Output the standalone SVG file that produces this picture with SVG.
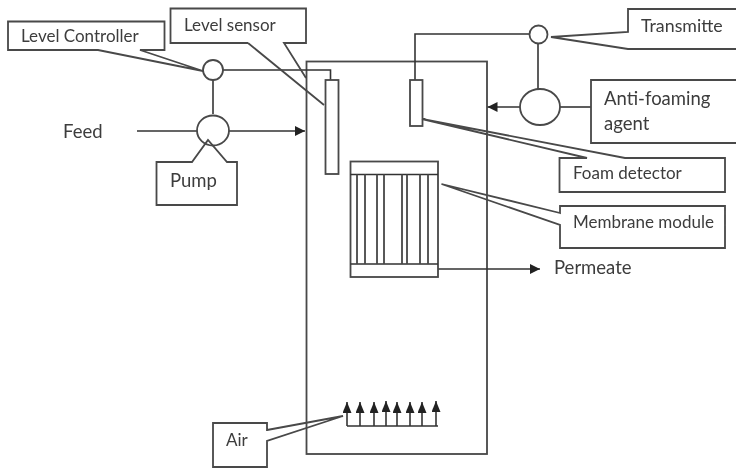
<svg xmlns="http://www.w3.org/2000/svg" width="736" height="469" viewBox="0 0 736 469">
<style>
.l{fill:none;stroke:#484848;stroke-width:1.8;stroke-linejoin:miter}
.d{fill:none;stroke:#333;stroke-width:1.6}
.w{fill:#fff;stroke:#484848;stroke-width:1.8}
.t{font-family:"Lato","Liberation Sans",sans-serif;font-size:17px;fill:#3c3c3c}
.b{font-size:18.500px}
</style>
<defs>
<filter id="soft" x="-5%" y="-5%" width="110%" height="110%"><feGaussianBlur stdDeviation="0.45"/></filter>
<marker id="ah" markerUnits="userSpaceOnUse" markerWidth="11" markerHeight="11" refX="10" refY="5" orient="auto"><path d="M0 0L10 5L0 10Z" fill="#222"/></marker>
<marker id="up" markerUnits="userSpaceOnUse" markerWidth="12" markerHeight="10" refX="11" refY="4.500" orient="auto"><path d="M0 0L11 4.500L0 9Z" fill="#222"/></marker>
</defs>
<rect width="736" height="469" fill="#fff"/>
<g filter="url(#soft)">
<g id="tank"><rect class="l" x="306.500" y="61.500" width="180.500" height="392.500"/></g>
<g id="connectors">
<path class="d" d="M223 70H330.500V80"/>
<path class="d" d="M213 80V114"/>
<path class="d" d="M137 131H197"/>
<path class="d" d="M229 131H305" marker-end="url(#ah)"/>
<path class="d" d="M415 80V34H529"/>
<path class="d" d="M538 44V89"/>
<path class="d" d="M520 107H487.500" marker-end="url(#ah)"/>
<path class="d" d="M560 107H591"/>
<path class="d" d="M438 269H540" marker-end="url(#ah)"/>
<path class="d" d="M347 426H438"/>
<path class="d" d="M347 426V402" marker-end="url(#up)"/>
<path class="d" d="M360 426V402" marker-end="url(#up)"/>
<path class="d" d="M374 426V402" marker-end="url(#up)"/>
<path class="d" d="M386 426V401" marker-end="url(#up)"/>
<path class="d" d="M397 426V402" marker-end="url(#up)"/>
<path class="d" d="M410 426V402" marker-end="url(#up)"/>
<path class="d" d="M422 426V402" marker-end="url(#up)"/>
<path class="d" d="M436 426V401" marker-end="url(#up)"/>
</g>
<g id="level-sensor-element"><rect class="w" x="325.500" y="80" width="13" height="94"/></g>
<g id="foam-detector-element"><rect class="w" x="410" y="80" width="12.500" height="46"/></g>
<g id="membrane-module">
<rect class="l" x="350.500" y="161.500" width="87.500" height="115.500"/>
<path class="d" d="M350.500 174.500H438M350.500 264H438"/>
<path class="l" d="M357 174.500V264M365 174.500V264M377 174.500V264M384 174.500V264M402 174.500V264M407 174.500V264M420 174.500V264M428 174.500V264"/>
</g>
<g id="controller"><circle class="w" cx="213" cy="70" r="10"/></g>
<g id="pump"><ellipse class="w" cx="213" cy="130.500" rx="16" ry="15"/></g>
<g id="transmitter"><circle class="w" cx="538.500" cy="34.500" r="9"/></g>
<g id="antifoam-pump"><ellipse class="w" cx="540" cy="107" rx="20" ry="18"/></g>
<g id="label-level-controller">
<path class="l" d="M98 50H8V21.500H164.500V50H140L203 71Z"/>
<text class="t" x="21" y="42">Level Controller</text>
</g>
<g id="label-level-sensor">
<path class="l" d="M248 43H170.500V8.500H306V43H284L306 78M248 43L324 105"/>
<text class="t" x="184" y="31">Level sensor</text>
</g>
<g id="label-pump">
<path class="l" d="M192 162H156.500V205H237V162H227L208 140Z"/>
<text class="t b" x="170" y="187">Pump</text>
</g>
<g id="label-feed"><text class="t b" x="63" y="138">Feed</text></g>
<g id="label-transmitter">
<path class="l" d="M736 9H628V32L551 37L628 49H736"/>
<text class="t" x="641" y="32" style="font-size:17.800px">Transmitte</text>
</g>
<g id="label-antifoam">
<path class="l" d="M736 80H591V143H736"/>
<text class="t b" x="604" y="105">Anti-foaming</text>
<text class="t b" x="604" y="130">agent</text>
</g>
<g id="label-foam-detector">
<path class="l" d="M587 158L422 119L625 158H725V192H559.500V158Z"/>
<text class="t" x="573" y="179">Foam detector</text>
</g>
<g id="label-membrane">
<path class="l" d="M560 213L441.500 184L560 225V248H725V206H560Z"/>
<text class="t" x="573" y="228">Membrane module</text>
</g>
<g id="label-permeate"><text class="t b" x="554" y="274">Permeate</text></g>
<g id="label-air">
<path class="l" d="M267 430L343 416L267 441V467H213V423H267Z"/>
<text class="t" x="226" y="446">Air</text>
</g>
</g>
</svg>
